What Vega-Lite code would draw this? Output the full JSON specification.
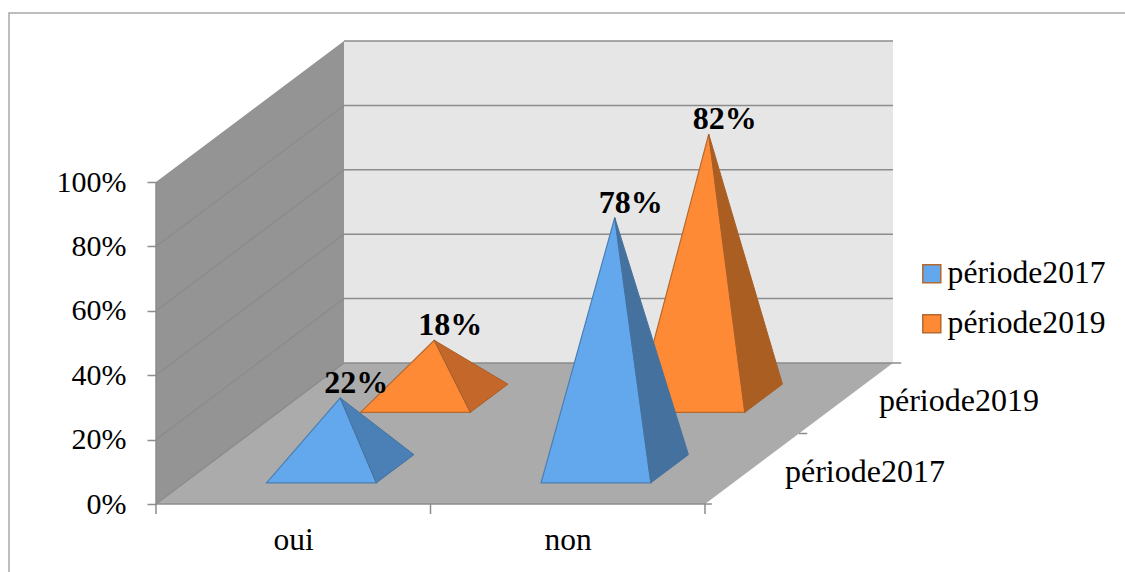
{
  "$schema": "https://vega.github.io/schema/vega-lite/v6.json",
  "width": 1125,
  "height": 572,
  "padding": 0,
  "autosize": "none",
  "background": "white",
  "view": {"stroke": null},
  "config": {"font": "Liberation Serif", "axis": {"grid": false}},
  "datasets": {
    "pyramides": [
      {"categorie": "oui", "periode": "période2017", "valeur": 22, "sommet": [0, 1, 2]},
      {"categorie": "oui", "periode": "période2019", "valeur": 18, "sommet": [0, 1, 2]},
      {"categorie": "non", "periode": "période2017", "valeur": 78, "sommet": [0, 1, 2]},
      {"categorie": "non", "periode": "période2019", "valeur": 82, "sommet": [0, 1, 2]}
    ],
    "parois": [
      {"paroi": "gauche", "ordre": 1, "c": 0, "d": 0, "h": 0},
      {"paroi": "gauche", "ordre": 2, "c": 0, "d": 2, "h": 0},
      {"paroi": "gauche", "ordre": 3, "c": 0, "d": 2, "h": 100},
      {"paroi": "gauche", "ordre": 4, "c": 0, "d": 0, "h": 100},
      {"paroi": "fond", "ordre": 1, "c": 0, "d": 2, "h": 0},
      {"paroi": "fond", "ordre": 2, "c": 2, "d": 2, "h": 0},
      {"paroi": "fond", "ordre": 3, "c": 2, "d": 2, "h": 100},
      {"paroi": "fond", "ordre": 4, "c": 0, "d": 2, "h": 100},
      {"paroi": "sol", "ordre": 1, "c": 0, "d": 0, "h": 0},
      {"paroi": "sol", "ordre": 2, "c": 2, "d": 0, "h": 0},
      {"paroi": "sol", "ordre": 3, "c": 2, "d": 2, "h": 0},
      {"paroi": "sol", "ordre": 4, "c": 0, "d": 2, "h": 0}
    ],
    "traits": [
      {"trait": "g0", "ordre": 1, "c": 0, "d": 0, "h": 0},
      {"trait": "g0", "ordre": 2, "c": 0, "d": 2, "h": 0},
      {"trait": "g0", "ordre": 3, "c": 2, "d": 2, "h": 0},
      {"trait": "g20", "ordre": 1, "c": 0, "d": 0, "h": 20},
      {"trait": "g20", "ordre": 2, "c": 0, "d": 2, "h": 20},
      {"trait": "g20", "ordre": 3, "c": 2, "d": 2, "h": 20},
      {"trait": "g40", "ordre": 1, "c": 0, "d": 0, "h": 40},
      {"trait": "g40", "ordre": 2, "c": 0, "d": 2, "h": 40},
      {"trait": "g40", "ordre": 3, "c": 2, "d": 2, "h": 40},
      {"trait": "g60", "ordre": 1, "c": 0, "d": 0, "h": 60},
      {"trait": "g60", "ordre": 2, "c": 0, "d": 2, "h": 60},
      {"trait": "g60", "ordre": 3, "c": 2, "d": 2, "h": 60},
      {"trait": "g80", "ordre": 1, "c": 0, "d": 0, "h": 80},
      {"trait": "g80", "ordre": 2, "c": 0, "d": 2, "h": 80},
      {"trait": "g80", "ordre": 3, "c": 2, "d": 2, "h": 80},
      {"trait": "g100", "ordre": 1, "c": 0, "d": 2, "h": 100},
      {"trait": "g100", "ordre": 2, "c": 2, "d": 2, "h": 100},
      {"trait": "axe-x", "ordre": 1, "c": 0, "d": 0, "h": 0},
      {"trait": "axe-x", "ordre": 2, "c": 2.025, "d": 0, "h": 0},
      {"trait": "axe-y", "ordre": 1, "c": 0, "d": 0, "h": 0},
      {"trait": "axe-y", "ordre": 2, "c": 0, "d": 0, "h": 100},
      {"trait": "tic-x0", "ordre": 1, "c": 0, "d": 0, "h": 0},
      {"trait": "tic-x0", "ordre": 2, "c": 0, "d": 0, "h": -3.1},
      {"trait": "tic-x1", "ordre": 1, "c": 1, "d": 0, "h": 0},
      {"trait": "tic-x1", "ordre": 2, "c": 1, "d": 0, "h": -3.1},
      {"trait": "tic-x2", "ordre": 1, "c": 2, "d": 0, "h": 0},
      {"trait": "tic-x2", "ordre": 2, "c": 2, "d": 0, "h": -3.1},
      {"trait": "tic-d1", "ordre": 1, "c": 2, "d": 1, "h": 0},
      {"trait": "tic-d1", "ordre": 2, "c": 2.03, "d": 1, "h": 0},
      {"trait": "tic-d2", "ordre": 1, "c": 2, "d": 2, "h": 0},
      {"trait": "tic-d2", "ordre": 2, "c": 2.03, "d": 2, "h": 0}
    ],
    "cadre": [
      {"ordre": 1, "c": 3.53, "d": 0, "h": 152.48},
      {"ordre": 2, "c": -0.5355, "d": 0, "h": 152.48},
      {"ordre": 3, "c": -0.5355, "d": 0, "h": -21.118}
    ]
  },
  "encoding": {
    "x": {
      "field": "x",
      "type": "quantitative",
      "scale": {"domain": [-0.5683, 3.5301], "nice": false, "zero": false},
      "axis": {
        "title": null,
        "orient": "bottom",
        "offset": -68,
        "values": [0.5, 1.5],
        "labelExpr": "datum.value < 1 ? 'oui' : 'non'",
        "labelFontSize": 31.5,
        "labelFont": "Liberation Serif",
        "labelColor": "#000000",
        "labelPadding": 20,
        "ticks": false,
        "domain": false,
        "grid": false,
        "labelFlush": false,
        "labelOverlap": false
      }
    },
    "y": {
      "field": "y",
      "type": "quantitative",
      "scale": {"domain": [-21.118, 156.522], "nice": false, "zero": false},
      "axis": {
        "title": null,
        "orient": "left",
        "offset": -156,
        "values": [0, 20, 40, 60, 80, 100],
        "labelExpr": "datum.value + '%'",
        "labelFontSize": 30,
        "labelFont": "Liberation Serif",
        "labelColor": "#000000",
        "labelPadding": 21,
        "tickSize": 9,
        "tickColor": "#8c8c8c",
        "tickWidth": 1.5,
        "domain": false,
        "grid": false,
        "labelOverlap": false
      }
    }
  },
  "layer": [
    {
      "data": {"name": "cadre"},
      "transform": [
        {"calculate": "datum.c + datum.d * 0.34244", "as": "x"},
        {"calculate": "datum.h + datum.d * 21.894", "as": "y"}
      ],
      "mark": {"type": "line", "stroke": "#a8a8a8", "strokeWidth": 1.5},
      "encoding": {
        "order": {"field": "ordre", "type": "quantitative"}
      }
    },
    {
      "data": {"name": "parois"},
      "transform": [
        {"calculate": "datum.c + datum.d * 0.34244", "as": "x"},
        {"calculate": "datum.h + datum.d * 21.894", "as": "y"}
      ],
      "mark": {"type": "line", "interpolate": "linear-closed", "strokeWidth": 0},
      "encoding": {
        "detail": {"field": "paroi"},
        "order": {"field": "ordre", "type": "quantitative"},
        "fill": {
          "condition": [
            {"test": "datum.paroi === 'gauche'", "value": "#949494"},
            {"test": "datum.paroi === 'fond'", "value": "#e6e6e6"}
          ],
          "value": "#ababab"
        }
      }
    },
    {
      "data": {"name": "traits"},
      "transform": [
        {"calculate": "datum.c + datum.d * 0.34244", "as": "x"},
        {"calculate": "datum.h + datum.d * 21.894", "as": "y"}
      ],
      "mark": {"type": "line", "stroke": "#8c8c8c", "strokeWidth": 1.5},
      "encoding": {
        "detail": {"field": "trait"},
        "order": {"field": "ordre", "type": "quantitative"}
      }
    },
    {
      "data": {"name": "pyramides"},
      "transform": [
        {"filter": "datum.periode === 'période2019'"},
        {"flatten": ["sommet"]},
        {"calculate": "datum.periode === 'période2017' ? 0.5 : 1.5", "as": "d"},
        {"calculate": "(datum.categorie === 'oui' ? 0.5 : 1.5) + (datum.sommet - 1) * 0.2 + (datum.d - (datum.sommet === 1 ? 0 : 0.2)) * 0.34244", "as": "x"},
        {"calculate": "(datum.sommet === 1 ? datum.valeur : 0) + (datum.d - (datum.sommet === 1 ? 0 : 0.2)) * 21.894", "as": "y"}
      ],
      "mark": {"type": "line", "interpolate": "linear-closed", "stroke": "#b5692e", "strokeWidth": 1.2},
      "encoding": {
        "detail": {"field": "categorie"},
        "order": {"field": "sommet", "type": "quantitative"},
        "fill": {
          "field": "periode",
          "type": "nominal",
          "scale": {"domain": ["période2017", "période2019"], "range": ["#63a7ec", "#ff8a36"]},
          "legend": {
            "title": null,
            "orient": "none",
            "legendX": 916,
            "legendY": 258,
            "symbolType": "square",
            "symbolSize": 324,
            "labelFont": "Liberation Serif",
            "labelFontSize": 31.6,
            "labelColor": "#000000",
            "labelOffset": 0,
            "rowPadding": 17,
            "labelLimit": 300
          }
        }
      }
    },
    {
      "data": {"name": "pyramides"},
      "transform": [
        {"filter": "datum.periode === 'période2019'"},
        {"flatten": ["sommet"]},
        {"calculate": "datum.periode === 'période2017' ? 0.5 : 1.5", "as": "d"},
        {"calculate": "(datum.categorie === 'oui' ? 0.5 : 1.5) + (datum.sommet === 0 ? 0 : 0.2) + (datum.d + (datum.sommet === 0 ? 0 : (datum.sommet === 1 ? -0.2 : 0.2))) * 0.34244", "as": "x"},
        {"calculate": "(datum.sommet === 0 ? datum.valeur : 0) + (datum.d + (datum.sommet === 0 ? 0 : (datum.sommet === 1 ? -0.2 : 0.2))) * 21.894", "as": "y"}
      ],
      "mark": {"type": "line", "interpolate": "linear-closed", "stroke": "#a85f27", "strokeWidth": 1},
      "encoding": {
        "detail": {"field": "categorie"},
        "order": {"field": "sommet", "type": "quantitative"},
        "fill": {"condition": {"test": "datum.categorie === 'oui'", "value": "#c4672a"}, "value": "#aa5e22"}
      }
    },
    {
      "data": {"name": "pyramides"},
      "transform": [
        {"filter": "datum.periode === 'période2017'"},
        {"flatten": ["sommet"]},
        {"calculate": "datum.periode === 'période2017' ? 0.5 : 1.5", "as": "d"},
        {"calculate": "(datum.categorie === 'oui' ? 0.5 : 1.5) + (datum.sommet - 1) * 0.2 + (datum.d - (datum.sommet === 1 ? 0 : 0.2)) * 0.34244", "as": "x"},
        {"calculate": "(datum.sommet === 1 ? datum.valeur : 0) + (datum.d - (datum.sommet === 1 ? 0 : 0.2)) * 21.894", "as": "y"}
      ],
      "mark": {"type": "line", "interpolate": "linear-closed", "stroke": "#4a7fb5", "strokeWidth": 1.2},
      "encoding": {
        "detail": {"field": "categorie"},
        "order": {"field": "sommet", "type": "quantitative"},
        "fill": {"field": "periode", "type": "nominal"}
      }
    },
    {
      "data": {"name": "pyramides"},
      "transform": [
        {"filter": "datum.periode === 'période2017'"},
        {"flatten": ["sommet"]},
        {"calculate": "datum.periode === 'période2017' ? 0.5 : 1.5", "as": "d"},
        {"calculate": "(datum.categorie === 'oui' ? 0.5 : 1.5) + (datum.sommet === 0 ? 0 : 0.2) + (datum.d + (datum.sommet === 0 ? 0 : (datum.sommet === 1 ? -0.2 : 0.2))) * 0.34244", "as": "x"},
        {"calculate": "(datum.sommet === 0 ? datum.valeur : 0) + (datum.d + (datum.sommet === 0 ? 0 : (datum.sommet === 1 ? -0.2 : 0.2))) * 21.894", "as": "y"}
      ],
      "mark": {"type": "line", "interpolate": "linear-closed", "stroke": "#44729f", "strokeWidth": 1},
      "encoding": {
        "detail": {"field": "categorie"},
        "order": {"field": "sommet", "type": "quantitative"},
        "fill": {"condition": {"test": "datum.categorie === 'oui'", "value": "#4b80b7"}, "value": "#45719f"}
      }
    },
    {
      "data": {"name": "pyramides"},
      "transform": [
        {"calculate": "datum.periode === 'période2017' ? 0.5 : 1.5", "as": "d"},
        {"calculate": "(datum.categorie === 'oui' ? 0.5 : 1.5) + datum.d * 0.34244", "as": "x"},
        {"calculate": "datum.valeur + datum.d * 21.894", "as": "y"},
        {"calculate": "datum.valeur + '%'", "as": "etiquette"}
      ],
      "mark": {"type": "text", "font": "Liberation Serif", "fontSize": 32, "fontWeight": "bold", "color": "#000000", "dx": 16, "dy": -15, "baseline": "middle", "align": "center"},
      "encoding": {
        "text": {"field": "etiquette"}
      }
    },
    {
      "data": {"values": [{"periode": "période2017", "d": 0.5}, {"periode": "période2019", "d": 1.5}]},
      "transform": [
        {"calculate": "2 + datum.d * 0.34244", "as": "x"},
        {"calculate": "datum.d * 21.894", "as": "y"}
      ],
      "mark": {"type": "text", "font": "Liberation Serif", "fontSize": 32, "color": "#000000", "dx": 33, "dy": 3, "baseline": "middle", "align": "left"},
      "encoding": {
        "text": {"field": "periode"}
      }
    }
  ]
}
